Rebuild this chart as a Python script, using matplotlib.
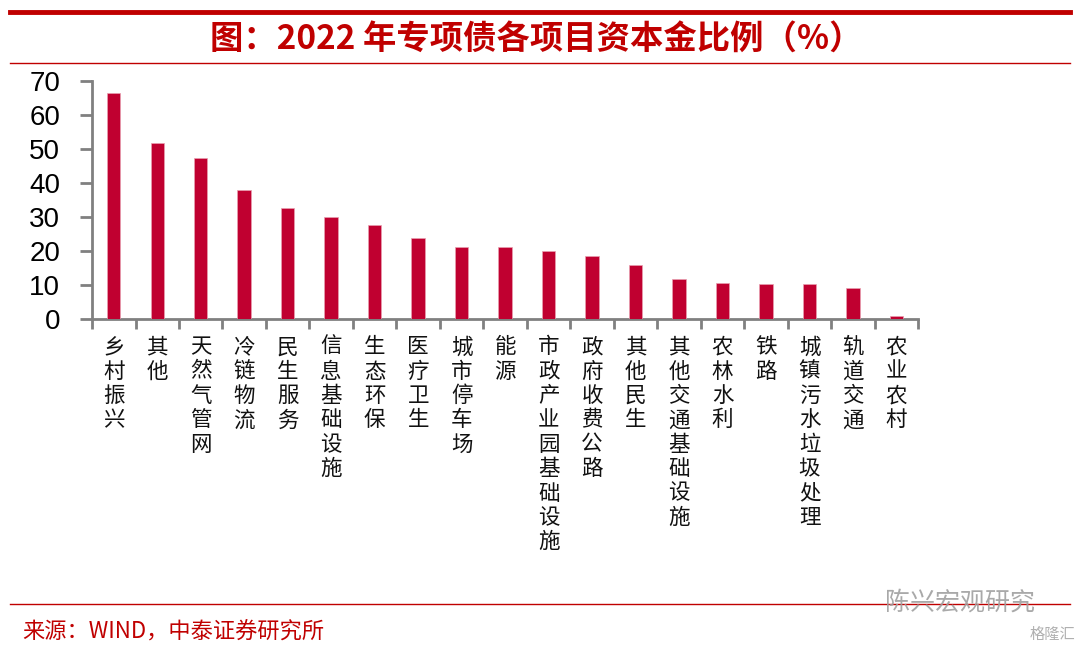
import matplotlib
matplotlib.use("Agg")
import matplotlib.pyplot as plt
from matplotlib.lines import Line2D

plt.rcParams["font.family"] = ["Noto Sans CJK SC", "DejaVu Sans"]
plt.rcParams["axes.unicode_minus"] = False

# 데이터
categories = ["乡村振兴", "其他", "天然气管网", "冷链物流", "民生服务", "信息基础设施",
              "生态环保", "医疗卫生", "城市停车场", "能源", "市政产业园基础设施",
              "政府收费公路", "其他民生", "其他交通基础设施", "农林水利", "铁路",
              "城镇污水垃圾处理", "轨道交通", "农业农村"]
values = [66.6, 51.9, 47.3, 37.9, 32.6, 30.2, 27.8, 24.0, 21.1, 21.2,
          20.0, 18.7, 16.0, 11.7, 10.5, 10.3, 10.3, 9.3, 0.8]
yticks = [0, 10, 20, 30, 40, 50, 60, 70]

title = "图：2022 年专项债各项目资本金比例（%）"
source = "来源：WIND，中泰证券研究所"

RED = "#C00000"
BAR = "#C00030"
GRAY = "#808080"

fig = plt.figure(figsize=(10.8, 6.5), dpi=100)
ax = fig.add_axes([0.0852, 0.509, 0.765, 0.366])

x = list(range(len(categories)))
ax.bar(x, values, width=0.31, color=BAR, edgecolor="#E8A0B0", linewidth=0.5, zorder=3)

ax.set_xlim(-0.5, len(categories) - 0.5)
ax.set_ylim(0, 70)
ax.set_yticks(yticks)
ax.set_yticklabels([str(v) for v in yticks], family="Liberation Sans", fontsize=20)
ax.tick_params(axis="y", direction="out", length=9, width=2, color=GRAY, pad=14)
ax.set_xticks([i - 0.5 for i in range(len(categories) + 1)])
ax.set_xticklabels([])
ax.tick_params(axis="x", direction="out", length=7, width=2, color=GRAY)
for s in ["top", "right"]:
    ax.spines[s].set_visible(False)
for s in ["left", "bottom"]:
    ax.spines[s].set_color(GRAY)
    ax.spines[s].set_linewidth(2)

# 세로 라벨 (글자 하나씩 쌓기)
for i, c in enumerate(categories):
    ax.text(i, -0.072, "\n".join(c), transform=ax.get_xaxis_transform(),
            ha="center", va="top", fontsize=15.5, linespacing=1.14, color="#111111")

# 제목과 선
fig.add_artist(Line2D([10 / 1080, 1070 / 1080], [1 - 12 / 650] * 2, color=RED, lw=3.5))
fig.text(536 / 1080, 1 - 40 / 650, title, ha="center", va="center",
         fontsize=24, fontweight="bold", color=RED)
fig.add_artist(Line2D([10 / 1080, 1070 / 1080], [1 - 63 / 650] * 2, color=RED, lw=1))
fig.add_artist(Line2D([10 / 1080, 1070 / 1080], [1 - 604 / 650] * 2, color=RED, lw=1))
fig.text(22 / 1080, 1 - 632 / 650, source, ha="left", va="center",
         fontsize=16, color=RED)

# 워터마크
fig.text(885 / 1080, 1 - 603 / 650, "陈兴宏观研究", ha="left", va="center",
         fontsize=18, color="#A0A0A0", alpha=0.9)
fig.text(1075 / 1080, 1 - 634 / 650, "格隆汇", ha="right", va="center",
         fontsize=11, color="#B0B0B0")

plt.savefig("out.png", dpi=100)
